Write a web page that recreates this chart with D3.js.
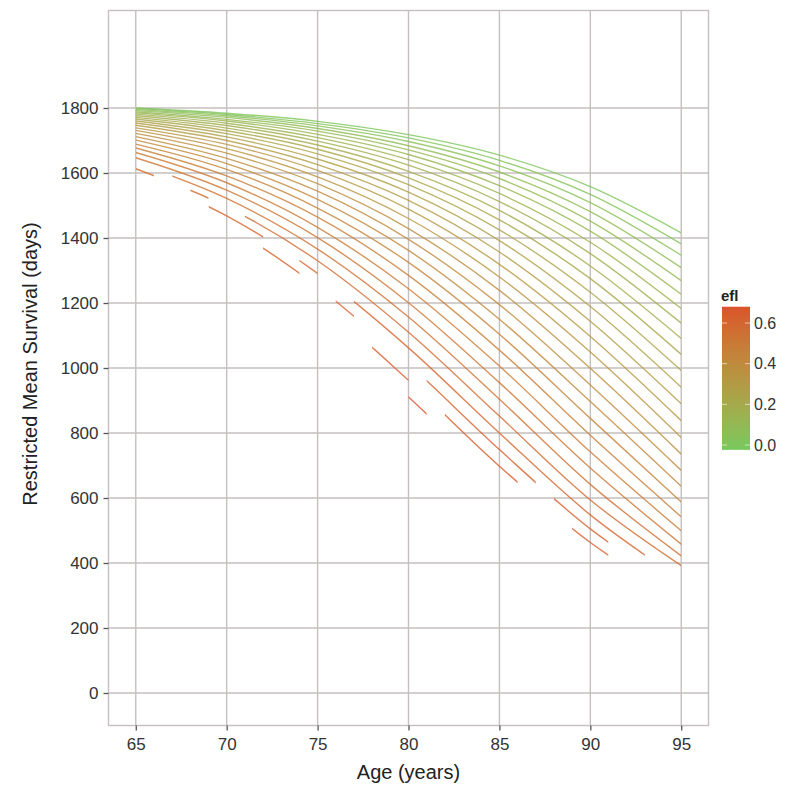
<!DOCTYPE html>
<html>
<head>
<meta charset="utf-8">
<script src="https://cdn.jsdelivr.net/npm/d3@7"></script>
<style>
  body { margin: 0; background: #fff; }
  text { font-family: "Liberation Sans", Arial, sans-serif; }
</style>
</head>
<body>
<div id="chart-container"></div>
<script>
const ages = [65, 70, 75, 80, 85, 90, 95];

// one curve per efl level
const eflLevels = [0, 0.025, 0.05, 0.075, 0.1, 0.125, 0.15, 0.175, 0.2, 0.225,
                   0.25, 0.275, 0.3, 0.325, 0.35, 0.375, 0.4, 0.425, 0.45, 0.475,
                   0.5, 0.525, 0.55, 0.575, 0.6, 0.625, 0.65, 0.675];

// restricted mean survival (days) at each age, one row per efl level
const survival = [
  [1800, 1784, 1759, 1718, 1655, 1558, 1416],
  [1798, 1780, 1752, 1708, 1639, 1534, 1382],
  [1795, 1776, 1745, 1697, 1622, 1509, 1347],
  [1792, 1771, 1737, 1684, 1603, 1481, 1309],
  [1788, 1765, 1729, 1671, 1583, 1452, 1269],
  [1785, 1760, 1719, 1657, 1561, 1421, 1227],
  [1781, 1753, 1709, 1641, 1537, 1387, 1183],
  [1776, 1746, 1698, 1624, 1512, 1352, 1138],
  [1771, 1738, 1686, 1605, 1485, 1314, 1091],
  [1766, 1730, 1673, 1585, 1456, 1275, 1042],
  [1760, 1721, 1659, 1564, 1425, 1233, 992],
  [1754, 1711, 1643, 1541, 1392, 1189, 941],
  [1747, 1700, 1626, 1516, 1357, 1144, 890],
  [1739, 1688, 1608, 1489, 1319, 1097, 838],
  [1731, 1675, 1588, 1460, 1280, 1049, 786],
  [1722, 1661, 1567, 1429, 1239, 999, 735],
  [1712, 1645, 1544, 1396, 1195, 948, 685],
  [1701, 1629, 1519, 1362, 1150, 897, 636],
  [1689, 1611, 1492, 1325, 1104, 845, 588],
  [1677, 1591, 1464, 1285, 1055, 793, 542],
  [1663, 1570, 1433, 1244, 1006, 742, 499],
  [1647, 1547, 1401, 1201, 955, 692, 458],
  [1631, 1522, 1366, 1157, 904, 642, 422],
  [1613, 1496, 1330, 1110, 852, 594, 392],
  [1594, 1468, 1291, 1062, 800, 548, 349],
  [1573, 1438, 1250, 1012, 749, 505, 318],
  [1550, 1405, 1207, 962, 698, 463, 290],
  [1526, 1371, 1163, 911, 649, 424, 264]
];

// age ranges where each curve is actually drawn (the high efl curves are broken)
const visibleRanges = [
  [[65, 95]], [[65, 95]], [[65, 95]], [[65, 95]], [[65, 95]],
  [[65, 95]], [[65, 95]], [[65, 95]], [[65, 95]], [[65, 95]],
  [[65, 95]], [[65, 95]], [[65, 95]], [[65, 95]], [[65, 95]],
  [[65, 95]], [[65, 95]], [[65, 95]], [[65, 95]], [[65, 95]],
  [[65, 95]], [[65, 95]],
  [[67, 95]],
  [[65, 66], [68, 69], [71, 95]],
  [[69, 72], [74, 75], [77, 93]],
  [[72, 74], [76, 77], [81, 87], [88, 91]],
  [[78, 80], [82, 86], [89, 91]],
  [[80, 81]]
];

const xTicks = [65, 70, 75, 80, 85, 90, 95];
const yTicks = [0, 200, 400, 600, 800, 1000, 1200, 1400, 1600, 1800];
const legendTicks = [0, 0.2, 0.4, 0.6];

const W = 797, H = 785;
const margin = {top: 10.5, right: 88.5, bottom: 59.5, left: 108.5},
      width = W - margin.left - margin.right,
      height = H - margin.top - margin.bottom;

const gridColor = "#c6bfbf";

const svg = d3.select("#chart-container").append("svg")
    .attr("width", W)
    .attr("height", H);

const defs = svg.append("defs");

const g = svg.append("g")
    .attr("transform", `translate(${margin.left}, ${margin.top})`);

const x = d3.scaleLinear().domain([63.5, 96.5]).range([0, width]);
const y = d3.scaleLinear().domain([-100, 2100]).range([height, 0]);
const color = d3.scaleLinear()
    .domain([0, 0.675])
    .range(["#7dc65b", "#d9552b"])
    .interpolate(d3.interpolateLab);

// grid
g.selectAll(".vgrid").data(xTicks).join("line")
    .attr("x1", d => x(d)).attr("x2", d => x(d))
    .attr("y1", 0).attr("y2", height)
    .attr("stroke", gridColor).attr("stroke-width", 1.4);
g.selectAll(".hgrid").data(yTicks).join("line")
    .attr("x1", 0).attr("x2", width)
    .attr("y1", d => y(d)).attr("y2", d => y(d))
    .attr("stroke", gridColor).attr("stroke-width", 1.4);

// curves, each clipped to the age ranges where it shows
const line = d3.line()
    .x(d => x(d[0]))
    .y(d => y(d[1]))
    .curve(d3.curveMonotoneX);

eflLevels.forEach((e, k) => {
    defs.append("clipPath").attr("id", "clip-" + k)
      .selectAll("rect").data(visibleRanges[k]).join("rect")
        .attr("x", d => x(d[0]))
        .attr("width", d => x(d[1]) - x(d[0]))
        .attr("y", 0)
        .attr("height", height);

    g.append("path")
        .datum(ages.map((a, i) => [a, survival[k][i]]))
        .attr("clip-path", `url(#clip-${k})`)
        .attr("fill", "none")
        .attr("stroke", color(e))
        .attr("stroke-opacity", 0.8)
        .attr("stroke-width", 1.4)
        .attr("d", line);
});

// panel border
g.append("rect")
    .attr("width", width).attr("height", height)
    .attr("fill", "none")
    .attr("stroke", gridColor).attr("stroke-width", 1.4);

// axes
const xAxis = g.append("g")
    .attr("transform", `translate(0, ${height})`)
    .call(d3.axisBottom(x).tickValues(xTicks).tickSize(5).tickPadding(7));
const yAxis = g.append("g")
    .call(d3.axisLeft(y).tickValues(yTicks).tickFormat(d3.format("d"))
          .tickSize(5).tickPadding(5));
[xAxis, yAxis].forEach(ax => {
    ax.select(".domain").remove();
    ax.selectAll(".tick line").attr("stroke", "#555").attr("stroke-width", 1.3);
    ax.selectAll(".tick text")
      .attr("fill", "#333")
      .style("font-size", "17px")
      .style("font-family", "'Liberation Sans', Arial, sans-serif");
});

// axis titles
g.append("text")
    .attr("text-anchor", "middle")
    .attr("x", width / 2)
    .attr("y", height + 53)
    .attr("fill", "#222")
    .style("font-size", "20px")
    .text("Age (years)");

g.append("text")
    .attr("transform", "rotate(-90)")
    .attr("x", -height / 2 + 4)
    .attr("y", -margin.left + 37)
    .attr("text-anchor", "middle")
    .attr("fill", "#222")
    .style("font-size", "20px")
    .text("Restricted Mean Survival (days)");

// colour bar legend
const legendY = d3.scaleLinear().domain([0, 0.6]).range([445, 323]);
const barX = 722, barW = 28;

const grad = defs.append("linearGradient")
    .attr("id", "efl-grad")
    .attr("x1", 0).attr("y1", 1).attr("x2", 0).attr("y2", 0);
grad.selectAll("stop").data(d3.range(0, 1.0001, 0.1)).join("stop")
    .attr("offset", d => d)
    .attr("stop-color", d => color(-0.024 + d * (0.68 + 0.024)));

svg.append("rect")
    .attr("x", barX).attr("y", legendY(0.68))
    .attr("width", barW).attr("height", legendY(-0.024) - legendY(0.68))
    .attr("fill", "url(#efl-grad)");

svg.selectAll(".ltick").data(legendTicks).join("g")
    .each(function(d) {
        const t = d3.select(this);
        t.append("line")
            .attr("x1", barX).attr("x2", barX + 5)
            .attr("y1", legendY(d)).attr("y2", legendY(d))
            .attr("stroke", "#fff").attr("stroke-opacity", 0.6);
        t.append("line")
            .attr("x1", barX + barW - 5).attr("x2", barX + barW)
            .attr("y1", legendY(d)).attr("y2", legendY(d))
            .attr("stroke", "#fff").attr("stroke-opacity", 0.6);
        t.append("text")
            .attr("x", barX + barW + 4)
            .attr("y", legendY(d))
            .attr("dy", "0.36em")
            .attr("fill", "#333")
            .style("font-size", "16px")
            .text(d3.format(".1f")(d));
    });

svg.append("text")
    .attr("x", barX - 1)
    .attr("y", legendY(0.68) - 6)
    .attr("fill", "#222")
    .style("font-size", "15px")
    .style("font-weight", "bold")
    .text("efl");
</script>
</body>
</html>
